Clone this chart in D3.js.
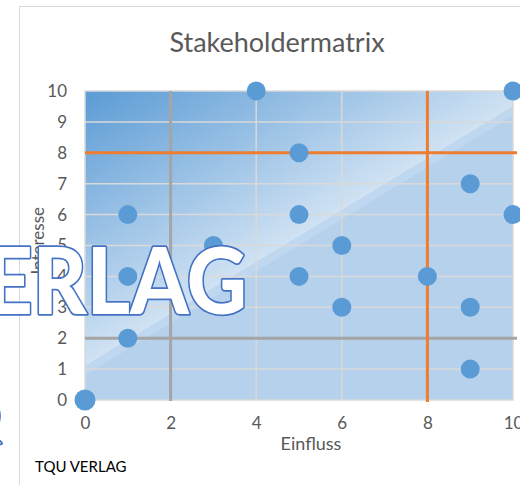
<!DOCTYPE html>
<html>
<head>
<meta charset="utf-8">
<script src="https://cdn.jsdelivr.net/npm/d3@7"></script>
<style>
  body { margin: 0; background: #fff; }
  svg { display: block; }
</style>
</head>
<body>
<div id="chart"></div>
<script>
// stakeholder data: Einfluss (x) / Interesse (y)
const einfluss = [0, 1, 1, 1, 3, 4, 5, 5, 5, 6, 6, 8, 9, 9, 9, 10, 10];
const interesse = [0, 2, 4, 6, 5, 10, 8, 6, 4, 5, 3, 4, 7, 3, 1, 10, 6];
const xTicks = [0, 2, 4, 6, 8, 10];
const yTicks = [0, 1, 2, 3, 4, 5, 6, 7, 8, 9, 10];
const grayLines = [2];
const orangeLines = [8];

const width = 520, height = 485;
const margin = {top: 91, right: 7, bottom: 85, left: 85};

const svg = d3.select("#chart")
    .append("svg")
    .attr("width", width)
    .attr("height", height);

const x = d3.scaleLinear().domain([0, 10]).range([margin.left, width - margin.right]);
const y = d3.scaleLinear().domain([0, 10]).range([height - margin.bottom, margin.top]);

const font = "Lato, 'Open Sans', sans-serif";
const grey = "#595959";

// chart border
svg.append("rect")
    .attr("x", 19.5).attr("y", 6.5)
    .attr("width", 700).attr("height", 700)
    .attr("fill", "#fff")
    .attr("stroke", "#d9d9d9");

// background gradient, dark top-left to light at the diagonal
const diag = [[0, 1.1], [10, 9.5]];
const p1 = [x(diag[0][0]), y(diag[0][1])], p2 = [x(diag[1][0]), y(diag[1][1])];
const tl = [x(0), y(10)];
const dx = p2[0] - p1[0], dy = p2[1] - p1[1];
const t = ((tl[0] - p1[0]) * dx + (tl[1] - p1[1]) * dy) / (dx * dx + dy * dy);
const foot = [p1[0] + t * dx, p1[1] + t * dy];

const defs = svg.append("defs");
const grad = defs.append("linearGradient")
    .attr("id", "bg")
    .attr("gradientUnits", "userSpaceOnUse")
    .attr("x1", tl[0]).attr("y1", tl[1])
    .attr("x2", foot[0]).attr("y2", foot[1]);
grad.append("stop").attr("offset", "0%").attr("stop-color", "#5b9bd5");
grad.append("stop").attr("offset", "100%").attr("stop-color", "#d0e2f3");

defs.append("clipPath").attr("id", "plotclip")
    .append("rect")
    .attr("x", x(0)).attr("y", y(10))
    .attr("width", x(10) - x(0)).attr("height", y(0) - y(10));

const bg = svg.append("g").attr("clip-path", "url(#plotclip)");
bg.append("rect")
    .attr("x", x(0)).attr("y", y(10))
    .attr("width", x(10) - x(0)).attr("height", y(0) - y(10))
    .attr("fill", "url(#bg)");
bg.append("path")
    .attr("d", `M${p1[0]},${p1[1]}L${p2[0]},${p2[1]}L${x(10)},${y(0)}L${x(0)},${y(0)}Z`)
    .attr("fill", "#b5d1ec");
bg.append("path")
    .attr("d", `M${p1[0]},${p1[1]}L${p2[0]},${p2[1]}L${p2[0]},${p2[1] + 9}L${p1[0]},${p1[1] + 9}Z`)
    .attr("fill", "#c0d8ef");

// grid
svg.append("g")
    .selectAll("line")
    .data(yTicks.filter(d => d > 0 && d < 10 && !grayLines.includes(d) && !orangeLines.includes(d)))
    .join("line")
    .attr("x1", x(0)).attr("x2", x(10))
    .attr("y1", d => y(d)).attr("y2", d => y(d))
    .attr("stroke", "#d9d9d9").attr("stroke-width", 1.5);

svg.append("g")
    .selectAll("line")
    .data(xTicks.filter(d => d > 0 && d < 10 && !grayLines.includes(d) && !orangeLines.includes(d)))
    .join("line")
    .attr("x1", d => x(d)).attr("x2", d => x(d))
    .attr("y1", y(0)).attr("y2", y(10))
    .attr("stroke", "#d9d9d9").attr("stroke-width", 1.5);

// plot area frame
svg.append("rect")
    .attr("x", x(0)).attr("y", y(10))
    .attr("width", x(10) - x(0)).attr("height", y(0) - y(10))
    .attr("fill", "none")
    .attr("stroke", "#d9d9d9").attr("stroke-width", 1.5);

// threshold lines
const thresholds = svg.append("g");
grayLines.forEach(v => {
    thresholds.append("line")
        .attr("x1", x(v)).attr("x2", x(v)).attr("y1", y(10)).attr("y2", y(0) + 1)
        .attr("stroke", "#a5a5a5").attr("stroke-width", 3);
    thresholds.append("line")
        .attr("x1", x(0)).attr("x2", x(10) + 4).attr("y1", y(v)).attr("y2", y(v))
        .attr("stroke", "#a5a5a5").attr("stroke-width", 3);
});
orangeLines.forEach(v => {
    thresholds.append("line")
        .attr("x1", x(v)).attr("x2", x(v)).attr("y1", y(10)).attr("y2", y(0) + 2)
        .attr("stroke", "#ed7d31").attr("stroke-width", 3);
    thresholds.append("line")
        .attr("x1", x(0)).attr("x2", x(10) + 4).attr("y1", y(v)).attr("y2", y(v))
        .attr("stroke", "#ed7d31").attr("stroke-width", 3);
});

// axes
const xAxis = svg.append("g")
    .attr("transform", `translate(0,${y(0)})`)
    .call(d3.axisBottom(x).tickValues(xTicks).tickSize(0).tickPadding(17));
const yAxis = svg.append("g")
    .attr("transform", `translate(${x(0)},0)`)
    .call(d3.axisLeft(y).tickValues(yTicks).tickSize(0).tickPadding(18));
[xAxis, yAxis].forEach(a => {
    a.select(".domain").remove();
    a.selectAll("text")
        .style("font-family", font)
        .style("font-size", "17px")
        .attr("fill", grey);
});

// points
svg.append("g")
    .selectAll("circle")
    .data(einfluss.map((d, i) => ({x: d, y: interesse[i]})))
    .join("circle")
    .attr("cx", d => x(d.x))
    .attr("cy", d => y(d.y))
    .attr("r", d => d.x === 0 && d.y === 0 ? 10.5 : 9.5)
    .attr("fill", "#5b9bd5");

// titles
svg.append("text")
    .attr("x", 277).attr("y", 52)
    .attr("text-anchor", "middle")
    .style("font-family", font)
    .style("font-size", "27px")
    .attr("fill", grey)
    .text("Stakeholdermatrix");

svg.append("text")
    .attr("x", 311).attr("y", 450)
    .attr("text-anchor", "middle")
    .style("font-family", font)
    .style("font-size", "18px")
    .attr("fill", grey)
    .text("Einfluss");

svg.append("text")
    .attr("transform", "translate(44,207) rotate(-90)")
    .attr("text-anchor", "end")
    .style("font-family", font)
    .style("font-size", "17px")
    .attr("fill", grey)
    .text("Interesse");

svg.append("text")
    .attr("x", 35).attr("y", 472)
    .style("font-family", font)
    .style("font-size", "15px")
    .attr("fill", "#000")
    .text("TQU VERLAG");

// watermark
const wm = svg.append("g")
    .style("font-family", font)
    .style("font-weight", "900")
    .attr("fill", "#fff")
    .attr("stroke", "#4472c4")
    .attr("stroke-width", 3.5)
    .attr("stroke-linejoin", "round")
    .attr("paint-order", "stroke");
wm.append("text")
    .attr("x", 247).attr("y", 314)
    .attr("text-anchor", "end")
    .attr("textLength", 262)
    .attr("lengthAdjust", "spacingAndGlyphs")
    .style("font-size", "92px")
    .text("ERLAG");
wm.append("text")
    .attr("x", -23).attr("y", 314)
    .attr("text-anchor", "end")
    .style("font-size", "92px")
    .text("TQU V");
wm.append("text")
    .attr("x", 1).attr("y", 436)
    .attr("text-anchor", "end")
    .style("font-size", "56px")
    .text("TQ");
</script>
</body>
</html>
